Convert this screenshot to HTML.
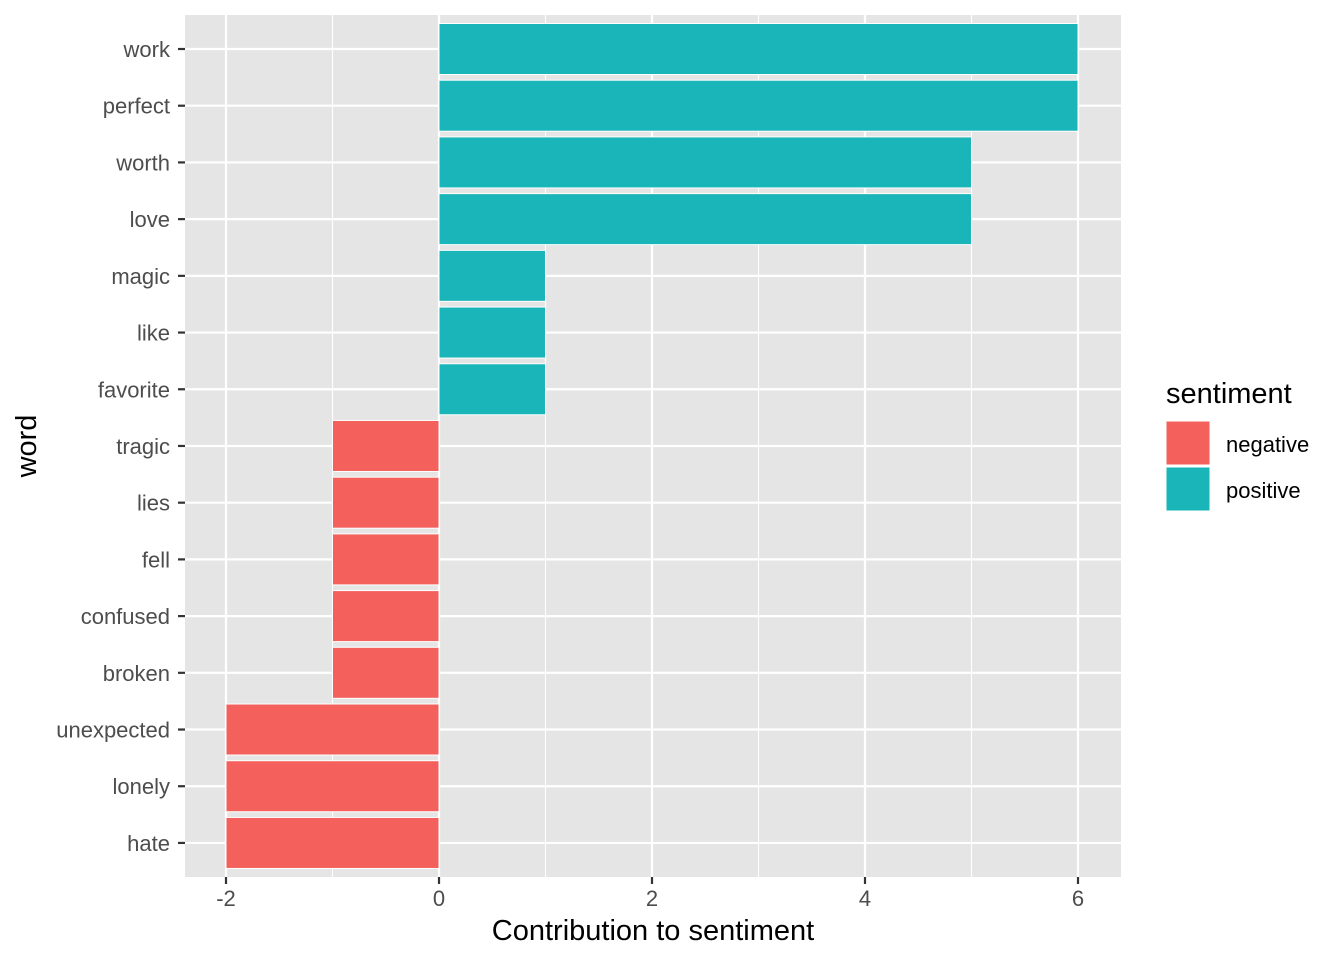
<!DOCTYPE html>
<html><head><meta charset="utf-8"><style>body{margin:0;background:#fff}</style></head><body>
<svg width="1344" height="960" xmlns="http://www.w3.org/2000/svg" font-family="Liberation Sans, Arial, sans-serif">
<rect width="1344" height="960" fill="#fff"/>
<rect x="185" y="15" width="936" height="862" fill="#e5e5e5"/>
<g stroke="#fff" stroke-width="1.1">
<line x1="332.5" y1="15" x2="332.5" y2="877"/><line x1="545.5" y1="15" x2="545.5" y2="877"/><line x1="758.5" y1="15" x2="758.5" y2="877"/><line x1="971.5" y1="15" x2="971.5" y2="877"/>
</g>
<g stroke="#fff" stroke-width="2.2" id="g">
<line x1="226" y1="15" x2="226" y2="877"/><line x1="439" y1="15" x2="439" y2="877"/><line x1="652" y1="15" x2="652" y2="877"/><line x1="865" y1="15" x2="865" y2="877"/><line x1="1078" y1="15" x2="1078" y2="877"/>
</g>
<g id="bars" stroke="#fff" stroke-width="1"></g>
<g id="ylab" font-size="22" fill="#4d4d4d" text-anchor="end"></g>
<g id="yt" stroke="#333" stroke-width="2.2"></g>
<g stroke="#333" stroke-width="2.2">
<line x1="226" y1="877" x2="226" y2="884"/><line x1="439" y1="877" x2="439" y2="884"/><line x1="652" y1="877" x2="652" y2="884"/><line x1="865" y1="877" x2="865" y2="884"/><line x1="1078" y1="877" x2="1078" y2="884"/>
</g>
<g font-size="22" fill="#4d4d4d" text-anchor="middle">
<text x="226" y="906">-2</text><text x="439" y="906">0</text><text x="652" y="906">2</text><text x="865" y="906">4</text><text x="1078" y="906">6</text>
</g>
<text x="653" y="940" font-size="29" text-anchor="middle" fill="#000">Contribution to sentiment</text>
<text transform="translate(36,446) rotate(-90)" font-size="29" text-anchor="middle" fill="#000">word</text>
<text x="1166" y="403" font-size="29" fill="#000">sentiment</text>
<rect x="1166" y="421" width="44" height="44" fill="#f4605b" stroke="#fff" stroke-width="1"/>
<rect x="1166" y="467" width="44" height="44" fill="#1ab5b8" stroke="#fff" stroke-width="1"/>
<text x="1226" y="452" font-size="22" fill="#000">negative</text>
<text x="1226" y="498" font-size="22" fill="#000">positive</text>
</svg>
<script>
var d=[["work",6],["perfect",6],["worth",5],["love",5],["magic",1],["like",1],["favorite",1],["tragic",-1],["lies",-1],["fell",-1],["confused",-1],["broken",-1],["unexpected",-2],["lonely",-2],["hate",-2]];
var ns="http://www.w3.org/2000/svg",b=document.getElementById("bars"),l=document.getElementById("ylab"),t=document.getElementById("yt");
d.forEach(function(r,i){var y=49+i*56.71,x0=439,x1=439+r[1]*106.5;
var e=document.createElementNS(ns,"rect");e.setAttribute("x",Math.min(x0,x1));e.setAttribute("width",Math.abs(x1-x0));e.setAttribute("y",y-25.5);e.setAttribute("height",51);e.setAttribute("fill",r[1]>0?"#1ab5b8":"#f4605b");b.appendChild(e);
var s=document.createElementNS(ns,"text");s.setAttribute("x",170);s.setAttribute("y",y+8);s.textContent=r[0];l.appendChild(s);
var k=document.createElementNS(ns,"line");k.setAttribute("x1",178);k.setAttribute("x2",185);k.setAttribute("y1",y);k.setAttribute("y2",y);t.appendChild(k);
var g=document.createElementNS(ns,"line");g.setAttribute("x1",185);g.setAttribute("x2",1121);g.setAttribute("y1",y);g.setAttribute("y2",y);g.setAttribute("stroke","#fff");g.setAttribute("stroke-width","2.2");b.parentNode.insertBefore(g,b);});
</script>
</body></html>
